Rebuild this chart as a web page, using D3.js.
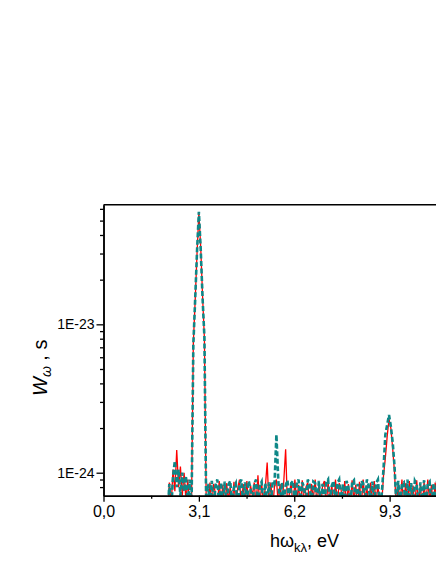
<!DOCTYPE html>
<html><head><meta charset="utf-8">
<script src="https://cdn.jsdelivr.net/npm/d3@7/dist/d3.min.js"></script>
<style>
html,body{margin:0;padding:0;background:#fff;}
svg{display:block;font-family:"Liberation Sans",Arial,sans-serif;}
</style></head>
<body>
<svg id="chart" width="436" height="564"></svg>
<script>
// photon energy grid, eV
const energyEV = [
 2.08,2.14,2.20,2.26,2.32,2.38,2.44,2.50,2.56,2.62,
 2.68,2.74,2.80,2.86,2.92,2.98,3.04,3.10,3.16,3.22,
 3.28,3.34,3.40,3.46,3.52,3.58,3.64,3.70,3.76,3.82,
 3.88,3.94,4.00,4.06,4.12,4.18,4.24,4.30,4.36,4.42,
 4.48,4.54,4.60,4.66,4.72,4.78,4.84,4.90,4.96,5.02,
 5.08,5.14,5.20,5.26,5.32,5.38,5.44,5.50,5.56,5.62,
 5.68,5.74,5.80,5.86,5.92,5.98,6.04,6.10,6.16,6.22,
 6.28,6.34,6.40,6.46,6.52,6.58,6.64,6.70,6.76,6.82,
 6.88,6.94,7.00,7.06,7.12,7.18,7.24,7.30,7.36,7.42,
 7.48,7.54,7.60,7.66,7.72,7.78,7.84,7.90,7.96,8.02,
 8.08,8.14,8.20,8.26,8.32,8.38,8.44,8.50,8.56,8.62,
 8.68,8.74,8.80,8.86,8.92,8.98,9.04,9.10,9.16,9.22,
 9.28,9.34,9.40,9.46,9.52,9.58,9.64,9.70,9.76,9.82,
 9.88,9.94,10.00,10.06,10.12,10.18,10.24,10.30,10.36,10.42,
 10.48,10.54,10.60,10.66,10.72,10.78,10.84,10.90,10.96,11.02,
 11.08];

// W_omega, in units of 1E-24 s (red solid curve)
const redSeries = [
 0.5,0.86,0.6,1.05,0.75,1.42,0.8,1.1,0.7,1.0,
 0.65,0.9,0.55,0.6,7.5,14.5,30,57,33,15.5,
 8.0,0.6,0.55,0.86,0.6,0.84,0.72,0.58,0.88,0.62,
 0.83,0.55,0.85,0.65,0.8,0.57,0.87,0.6,0.78,0.9,
 0.58,0.84,0.62,0.88,0.55,0.82,0.7,0.86,0.6,0.96,
 0.58,0.85,0.63,0.8,1.17,0.6,0.86,0.58,0.82,0.9,
 0.62,0.84,0.57,0.88,1.44,0.6,0.72,0.86,0.55,0.9,
 0.64,0.83,0.58,0.89,0.6,0.8,0.86,0.57,0.84,0.66,
 0.9,0.6,0.85,0.58,0.82,0.88,0.6,0.87,0.63,0.84,
 0.56,0.9,0.62,0.85,0.78,0.58,0.88,0.61,0.84,0.57,
 0.89,0.65,0.83,0.58,0.87,0.6,0.9,0.64,0.82,0.56,
 0.86,0.6,0.88,0.62,0.84,0.58,0.6,0.95,1.25,1.75,
 2.3,2.0,1.45,1.0,0.55,0.86,0.6,0.9,0.58,0.85,
 0.63,0.88,0.57,0.82,0.6,0.89,0.62,0.84,0.56,0.87,
 0.6,0.9,0.64,0.83,0.58,0.86,0.6,0.88,0.62,0.85,
 0.58];

// W_omega, in units of 1E-24 s (teal dashed curve)
const tealSeries = [
 0.5,0.84,0.55,0.95,1.2,0.8,1.05,0.7,1.0,0.75,
 0.95,0.6,0.9,0.55,7.3,14.8,31,57.4,32,15,
 8.2,0.55,0.84,0.6,0.88,0.56,0.82,0.9,0.6,0.86,
 0.62,0.87,0.58,0.83,0.88,0.6,0.8,0.85,0.57,0.84,
 0.9,0.6,0.86,0.62,0.88,0.78,0.58,0.84,0.9,0.6,
 0.82,0.87,0.58,0.85,0.62,0.86,0.6,0.88,0.85,1.81,
 0.9,0.58,0.86,0.62,0.82,0.89,0.6,0.85,0.88,0.58,
 0.84,0.9,0.62,0.86,0.8,0.58,0.9,0.83,0.6,0.87,
 0.85,0.57,0.88,0.62,0.84,0.59,0.86,0.9,0.6,0.82,
 0.88,0.58,0.85,0.9,0.6,0.84,0.62,0.88,0.8,0.57,
 0.86,0.89,0.6,0.84,0.62,0.88,0.85,0.58,0.9,0.82,
 0.6,0.87,0.62,0.85,0.9,0.6,0.7,1.05,1.8,2.1,
 2.45,2.05,1.6,1.1,0.6,0.88,0.6,0.84,0.86,0.58,
 0.9,0.62,0.85,0.6,0.88,0.83,0.58,0.86,0.62,0.89,
 0.6,0.84,0.87,0.58,0.85,0.6,0.88,0.62,0.84,0.86,
 0.6];

const xMajorTicks = [0, 3.1, 6.2, 9.3];
const xMajorLabels = ["0,0", "3,1", "6,2", "9,3"];
const xMinorTicks = [1.55, 4.65, 7.75, 10.85];
const yMajorTicks = [1, 10];
const yMajorLabels = ["1E-24", "1E-23"];
const yMinorTicks = [0.8, 0.9, 2, 3, 4, 5, 6, 7, 8, 9, 20, 30, 40, 50, 60];

const svg = d3.select("#chart");
const L = 103.5, T = 204.7, R = 485, B = 495.7;

const x = d3.scaleLinear().domain([0, 12.4]).range([L, R]);
const y = d3.scaleLog().domain([0.70, 64]).range([B, T]);

svg.append("defs").append("clipPath").attr("id", "plotclip")
  .append("rect").attr("x", L).attr("y", T).attr("width", R - L).attr("height", B - T);

const line = d3.line().x(d => x(d[0])).y(d => y(d[1]));
const redData = energyEV.map((e, i) => [e, redSeries[i]]);
const tealData = energyEV.map((e, i) => [e, tealSeries[i]]);

const plot = svg.append("g").attr("clip-path", "url(#plotclip)");
plot.append("path").datum(redData).attr("d", line)
  .attr("fill", "none").attr("stroke", "#ff0000").attr("stroke-width", 1.3);
plot.append("path").datum(tealData).attr("d", line)
  .attr("fill", "none").attr("stroke", "#0e8787").attr("stroke-width", 2.6)
  .attr("stroke-dasharray", "5,2.5");

// axes
const xAxisMajor = d3.axisBottom(x).tickValues(xMajorTicks)
  .tickFormat((d, i) => xMajorLabels[i]).tickSize(6).tickSizeOuter(0).tickPadding(4);
const xAxisMinor = d3.axisBottom(x).tickValues(xMinorTicks)
  .tickFormat("").tickSize(3).tickSizeOuter(0);
const yAxisMajor = d3.axisLeft(y).tickValues(yMajorTicks)
  .tickFormat((d, i) => yMajorLabels[i]).tickSize(7).tickSizeOuter(0).tickPadding(2);
const yAxisMinor = d3.axisLeft(y).tickValues(yMinorTicks)
  .tickFormat("").tickSize(3.5).tickSizeOuter(0);

function style(g, fs) {
  g.select(".domain").attr("stroke", "#000").attr("stroke-width", 1.5);
  g.selectAll(".tick line").attr("stroke", "#000").attr("stroke-width", 1.3);
  g.selectAll(".tick text").attr("fill", "#000").attr("font-size", fs)
    .attr("font-family", "Liberation Sans, Arial, sans-serif");
}
svg.append("g").attr("transform", `translate(0,${B})`).call(xAxisMinor).call(g => style(g, 16));
svg.append("g").attr("transform", `translate(0,${B})`).call(xAxisMajor).call(g => style(g, 16));
svg.append("g").attr("transform", `translate(${L},0)`).call(yAxisMinor).call(g => style(g, 14));
svg.append("g").attr("transform", `translate(${L},0)`).call(yAxisMajor).call(g => style(g, 14));

// frame top and right
svg.append("line").attr("x1", L).attr("x2", R).attr("y1", T).attr("y2", T)
  .attr("stroke", "#000").attr("stroke-width", 1.5);
svg.append("line").attr("x1", R).attr("x2", R).attr("y1", T).attr("y2", B)
  .attr("stroke", "#000").attr("stroke-width", 1.5);

// axis titles
const xt = svg.append("text").attr("x", 270).attr("y", 547)
  .attr("font-size", 18).attr("fill", "#000");
xt.append("tspan").text("hω");
xt.append("tspan").attr("font-size", 13).attr("dy", 5).text("kλ");
xt.append("tspan").attr("dy", -5).text(", eV");

const yt = svg.append("text").attr("transform", "translate(47,396) rotate(-90)")
  .attr("font-size", 20).attr("fill", "#000");
yt.append("tspan").attr("font-style", "italic").text("W");
yt.append("tspan").attr("font-style", "italic").attr("font-size", 14).attr("dy", 4).text("ω");
yt.append("tspan").attr("dy", -4).text(" , s");
</script>
</body></html>
